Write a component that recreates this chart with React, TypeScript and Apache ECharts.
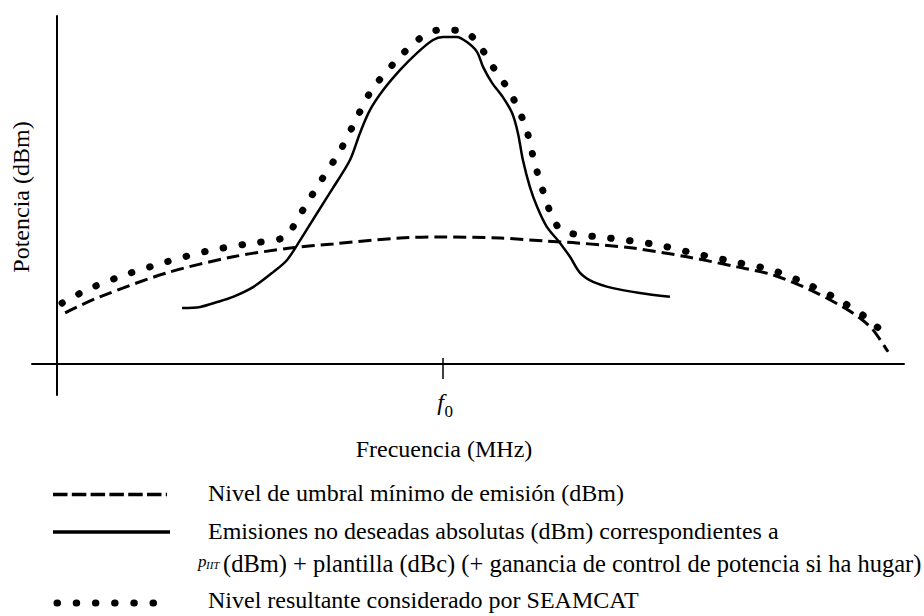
import React, { useEffect, useRef } from "react";
import * as echarts from "echarts";

const FONT = "Liberation Serif";

// Arbitrary units: frequency axis (f0 = 100), power axis (0 at the horizontal axis)
const F0 = 100;
const X_MIN = -6.48;
const X_MAX = 219.43;
const Y_MIN = -8.91;
const Y_MAX = 100;

// Nivel de umbral mínimo de emisión (dashed)
const thresholdX = [2.1, 11.1, 28.5, 45.6, 60.4, 71.5, 88.9, 100, 114.8, 126.9, 134.7, 149.2, 163.2, 176.2, 185.5, 195.1, 203.6, 208.0, 211.4, 215.3];
const thresholdY = [14.7, 19.3, 26.2, 30.8, 33.3, 34.5, 36.2, 36.5, 36.2, 35.3, 34.8, 33.3, 30.8, 27.9, 25.6, 21.3, 16.4, 13.2, 9.8, 3.5];

// Emisiones no deseadas absolutas (solid)
const emissionX = [32.4, 37.1, 41.5, 45.6, 50.8, 56.0, 59.6, 63.0, 67.4, 71.5, 75.9, 78.5, 81.1, 84.5, 88.9, 93.3, 97.4, 100, 103.6, 106.2, 108.8, 110.4, 112.7, 115.5, 117.9, 119.4, 120.7, 122.5, 124.4, 126.9, 130.3, 132.9, 135.5, 138.9, 144.0, 151.0, 158.8];
const emissionY = [16.1, 16.4, 17.8, 19.3, 22.1, 26.4, 29.9, 35.6, 43.4, 50.6, 58.6, 66.4, 73.0, 78.7, 84.5, 89.4, 93.1, 94.0, 94.0, 92.5, 89.7, 85.3, 80.8, 76.7, 72.1, 66.4, 58.6, 50.9, 45.1, 39.4, 34.8, 30.8, 26.2, 23.6, 21.8, 20.4, 19.3];

// Nivel resultante considerado por SEAMCAT (dotted)
const resultX = [1.3, 8.3, 17.6, 28.2, 39.1, 49.2, 59.3, 61.7, 64.0, 68.7, 73.3, 76.9, 81.4, 87.6, 93.8, 99.2, 105.2, 108.6, 113.0, 117.6, 121.5, 123.8, 126.4, 128.2, 130.3, 133.7, 143.0, 155.7, 165.8, 175.7, 185.2, 194.3, 202.6, 209.8, 215.8];
const resultY = [17.5, 21.6, 25.6, 29.3, 32.5, 34.5, 36.5, 40.5, 44.8, 53.2, 61.2, 69.0, 78.5, 86.8, 93.4, 96.0, 95.7, 92.8, 85.3, 77.6, 67.8, 57.5, 48.0, 42.5, 38.8, 37.4, 36.2, 34.2, 31.6, 29.3, 27.0, 23.0, 18.4, 13.2, 7.2];

const xAxisTitle = "Frecuencia (MHz)";
const yAxisTitle = "Potencia (dBm)";
const legendTexts = [
  "Nivel de umbral mínimo de emisión (dBm)",
  "Emisiones no deseadas absolutas (dBm) correspondientes a",
  "(dBm) + plantilla (dBc) (+ ganancia de control de potencia si ha hugar)",
  "Nivel resultante considerado por SEAMCAT",
];

const zip = (xs: number[], ys: number[]) => xs.map((x, i) => [x, ys[i]]);

export default function App() {
  const ref = useRef<HTMLDivElement>(null);
  useEffect(() => {
    if (!ref.current) return;
    const chart = echarts.init(ref.current, null, { renderer: "svg" });
    chart.setOption({
      animation: false,
      backgroundColor: "#ffffff",
      grid: { left: 32, right: 20, top: 16, bottom: 221 },
      xAxis: {
        type: "value",
        min: X_MIN,
        max: X_MAX,
        axisLine: { show: true, onZero: true, lineStyle: { color: "#000", width: 2 } },
        axisTick: { show: false },
        axisLabel: { show: false },
        splitLine: { show: false },
      },
      yAxis: {
        type: "value",
        min: Y_MIN,
        max: Y_MAX,
        axisLine: { show: true, onZero: true, lineStyle: { color: "#000", width: 2 } },
        axisTick: { show: false },
        axisLabel: { show: false },
        splitLine: { show: false },
      },
      series: [
        {
          name: "umbral",
          type: "line",
          smooth: 0.3,
          symbol: "none",
          data: zip(thresholdX, thresholdY),
          lineStyle: { color: "#000", width: 3, type: [13, 6] },
          markLine: {
            silent: true,
            symbol: "none",
            label: { show: false },
            lineStyle: { color: "#000", width: 1.5, type: "solid" },
            data: [[{ coord: [F0, 1.72] }, { coord: [F0, -4.31] }]],
          },
          z: 2,
        },
        {
          name: "emisiones",
          type: "line",
          smooth: 0.3,
          symbol: "none",
          data: zip(emissionX, emissionY),
          lineStyle: { color: "#000", width: 2.5 },
          z: 3,
        },
        {
          name: "resultante",
          type: "line",
          smooth: 0.3,
          symbol: "none",
          data: zip(resultX, resultY),
          lineStyle: { color: "#000", width: 7, type: [0.5, 18.5], cap: "round" },
          z: 4,
        },
      ],
    });

    const [fx] = chart.convertToPixel({ xAxisIndex: 0, yAxisIndex: 0 }, [F0, 0]) as number[];
    const txt = { fill: "#000", fontFamily: FONT, fontSize: 24 };
    chart.setOption({
      graphic: [
        { type: "text", x: fx + 1, y: 402, style: { ...txt, text: "f", fontStyle: "italic", align: "right", verticalAlign: "middle" } },
        { type: "text", x: fx + 1.5, y: 411, style: { ...txt, text: "0", fontSize: 17, align: "left", verticalAlign: "middle" } },
        { type: "text", x: fx + 1, y: 449, style: { ...txt, text: xAxisTitle, align: "center", verticalAlign: "middle" } },
        {
          type: "text",
          x: 21,
          y: 197,
          rotation: Math.PI / 2,
          style: { ...txt, text: yAxisTitle, align: "center", verticalAlign: "middle" },
        },
        { type: "line", shape: { x1: 53, y1: 494.5, x2: 167, y2: 494.5 }, style: { stroke: "#000", lineWidth: 3.5, lineDash: [14.5, 4.3] } },
        { type: "line", shape: { x1: 53, y1: 532, x2: 170, y2: 532 }, style: { stroke: "#000", lineWidth: 3.5 } },
        { type: "line", shape: { x1: 57, y1: 603, x2: 154, y2: 603 }, style: { stroke: "#000", lineWidth: 7, lineCap: "round", lineDash: [0.5, 18.7] } },
        { type: "text", x: 208, y: 493, style: { ...txt, text: legendTexts[0], verticalAlign: "middle" } },
        { type: "text", x: 208, y: 531, style: { ...txt, text: legendTexts[1], verticalAlign: "middle" } },
        { type: "text", x: 198, y: 561, style: { ...txt, text: "p", fontSize: 17, fontStyle: "italic", verticalAlign: "middle" } },
        { type: "text", x: 206, y: 565, style: { ...txt, text: "IIT", fontSize: 11, fontStyle: "italic", verticalAlign: "middle" } },
        { type: "text", x: 223, y: 563, style: { ...txt, text: legendTexts[2], fontSize: 24.5, verticalAlign: "middle" } },
        { type: "text", x: 208, y: 600, style: { ...txt, text: legendTexts[3], verticalAlign: "middle" } },
      ],
    });
    return () => chart.dispose();
  }, []);
  return <div ref={ref} style={{ position: "fixed", left: 0, top: 0, width: 924, height: 616 }} />;
}
